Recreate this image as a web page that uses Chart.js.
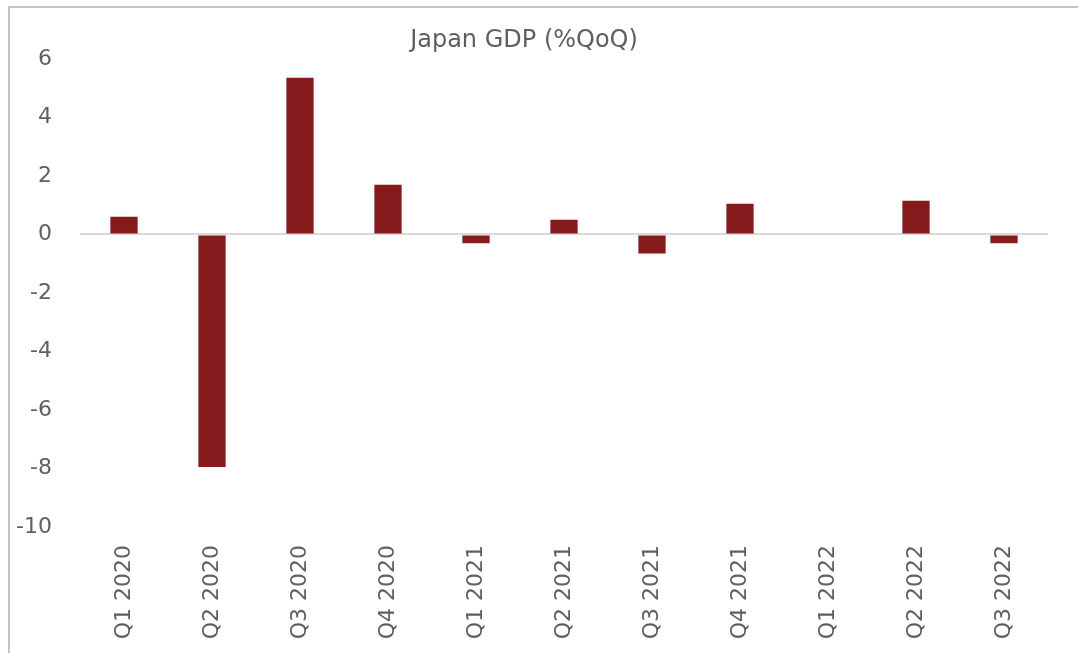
<!DOCTYPE html>
<html>
<head>
<meta charset="utf-8">
<script src="https://cdn.jsdelivr.net/npm/chart.js@4/dist/chart.umd.min.js"></script>
<style>
  html, body { margin: 0; background: #fff; overflow: hidden; width: 1078px; height: 653px; }
  .linha { position: absolute; background: #c3c3c3; }
  #topo { left: 8px; top: 6px; width: 1070px; height: 2px; }
  #esquerda { left: 8px; top: 6px; width: 2px; height: 647px; }
  #wrap { position: absolute; left: 0; top: 0; width: 1078px; height: 653px; }
</style>
</head>
<body>
<div class="linha" id="topo"></div>
<div class="linha" id="esquerda"></div>
<div id="wrap"><canvas id="grafico"></canvas></div>
<script>
const trimestres = ["Q1 2020", "Q2 2020", "Q3 2020", "Q4 2020", "Q1 2021", "Q2 2021", "Q3 2021", "Q4 2021", "Q1 2022", "Q2 2022", "Q3 2022"];
const pibQoQ = [0.6, -7.95, 5.35, 1.7, -0.3, 0.5, -0.65, 1.05, 0, 1.15, -0.3];
const eixoY = { min: -10, max: 6, passo: 2 };

const cinza = "#5f5f5f";
const fonte = "'DejaVu Sans', sans-serif";

const ctx = document.getElementById("grafico").getContext("2d");
new Chart(ctx, {
  type: "bar",
  data: {
    labels: trimestres,
    datasets: [{
      label: "Japan GDP (%QoQ)",
      data: pibQoQ,
      backgroundColor: "#861b1e",
      barPercentage: 0.31,
      categoryPercentage: 1
    }]
  },
  options: {
    responsive: true,
    maintainAspectRatio: false,
    animation: false,
    layout: { padding: { top: 26, right: 30, left: 0, bottom: 0 } },
    plugins: {
      legend: { display: false },
      tooltip: { enabled: false },
      title: {
        display: true,
        text: "Japan GDP (%QoQ)",
        color: cinza,
        font: { family: fonte, size: 24, weight: "normal" },
        padding: { top: 0, bottom: 4 }
      }
    },
    scales: {
      x: {
        border: { display: false },
        grid: { display: false, drawTicks: false },
        ticks: {
          color: cinza,
          font: { family: fonte, size: 22 },
          minRotation: 90,
          maxRotation: 90,
          padding: 18,
          autoSkip: false
        },
        afterFit: function (scale) { scale.height = 126; }
      },
      y: {
        min: eixoY.min,
        max: eixoY.max,
        border: { display: false },
        grid: {
          drawTicks: false,
          lineWidth: 2,
          color: c => c.tick && c.tick.value === 0 ? "#d9d9d9" : "rgba(0,0,0,0)"
        },
        ticks: {
          stepSize: eixoY.passo,
          color: cinza,
          font: { family: fonte, size: 22 },
          padding: 28
        },
        afterFit: function (scale) { scale.width = 80; }
      }
    }
  }
});
</script>
</body>
</html>
